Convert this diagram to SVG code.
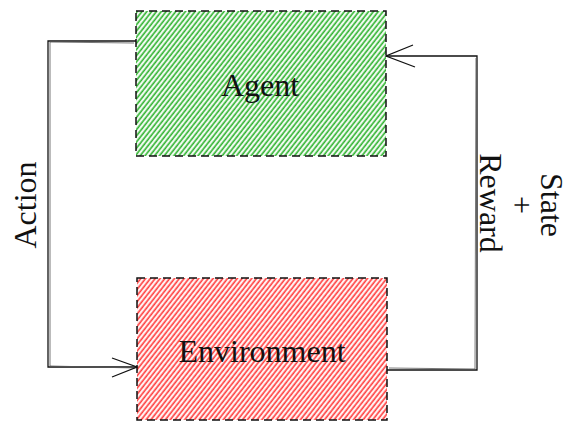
<svg xmlns="http://www.w3.org/2000/svg" width="572" height="423" viewBox="0 0 572 423">
<defs>
<pattern id="hg" width="3.8" height="3.8" patternUnits="userSpaceOnUse" patternTransform="rotate(38)">
<line x1="1.2" y1="0" x2="1.2" y2="3.8" stroke="#2fb32f" stroke-width="1.7"/>
</pattern>
<pattern id="hr" width="3.8" height="3.8" patternUnits="userSpaceOnUse" patternTransform="rotate(38)">
<line x1="1.2" y1="0" x2="1.2" y2="3.8" stroke="#ff3d3d" stroke-width="1.7"/>
</pattern>
</defs>
<style>
.box{stroke:#111;stroke-width:1.5;stroke-dasharray:8 5}
.lbl{font-family:"Liberation Serif","DejaVu Serif",serif;font-size:32px;fill:#111}
.c{fill:none;stroke:#111;stroke-width:1.3;stroke-linejoin:miter}
.c2{fill:none;stroke:#555;stroke-width:0.8}
</style>
<rect x="0" y="0" width="572" height="423" fill="#fff"/>
<g id="agent">
<rect x="136" y="11" width="250" height="145" fill="url(#hg)" class="box"/>
<text class="lbl" x="260" y="96" text-anchor="middle">Agent</text>
</g>
<g id="environment">
<rect x="137" y="278" width="250" height="142" fill="url(#hr)" class="box"/>
<text class="lbl" x="262" y="362" text-anchor="middle">Environment</text>
</g>
<g id="connectors">
<path class="c" d="M136 41 L48 41 L48 367 L137 367"/>
<path class="c2" d="M134 43 L50 42 L50 366 L135 368"/>
<path class="c" d="M112 358 L137 367 L112 377"/>
<path class="c" d="M387 370 L477 370 L477 56 L386 56"/>
<path class="c2" d="M389 368 L475 369 L476 58"/>
<path class="c" d="M413 45 L386 56 L415 67"/>
<text class="lbl" transform="translate(36 205) rotate(-90)" text-anchor="middle">Action</text>
<text class="lbl" transform="translate(541 205) rotate(90)" text-anchor="middle">State</text>
<text class="lbl" transform="translate(511 205) rotate(90)" text-anchor="middle">+</text>
<text class="lbl" transform="translate(480 203) rotate(90)" text-anchor="middle">Reward</text>
</g>
</svg>
